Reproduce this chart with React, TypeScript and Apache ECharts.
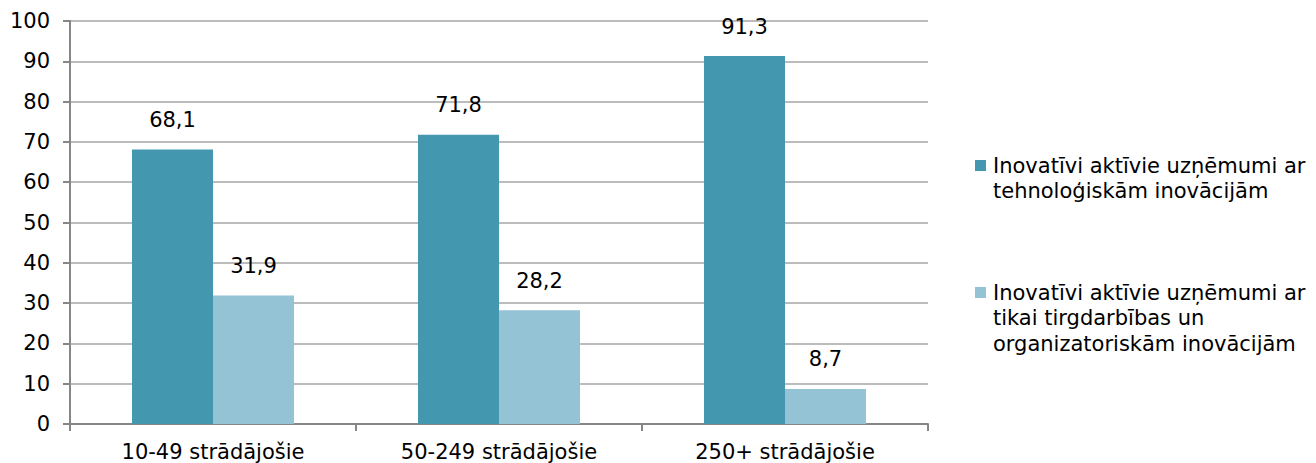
import React, { useEffect, useRef } from "react";
import * as echarts from "echarts";

const categories = ["10-49 strādājošie", "50-249 strādājošie", "250+ strādājošie"];
const seriesNames = [
  "Inovatīvi aktīvie uzņēmumi ar\ntehnoloģiskām inovācijām",
  "Inovatīvi aktīvie uzņēmumi ar\ntikai tirgdarbības un\norganizatoriskām inovācijām",
];
const techValues = [68.1, 71.8, 91.3];
const nonTechValues = [31.9, 28.2, 8.7];
const colors = ["#4398B0", "#93C3D5"];
const yTicks = [0, 10, 20, 30, 40, 50, 60, 70, 80, 90, 100];

const FONT = "DejaVu Sans, Verdana, sans-serif";
const FS = 21;

export default function App() {
  const ref = useRef<HTMLDivElement>(null);
  useEffect(() => {
    if (!ref.current) return;
    const chart = echarts.init(ref.current, null, { renderer: "svg" });
    const fmt = (v: number) => v.toFixed(1).replace(".", ",");
    const legendTops = [153, 280];
    const graphic: any[] = [];
    seriesNames.forEach((name, i) => {
      graphic.push({
        type: "rect",
        left: 975,
        top: legendTops[i] + 7,
        shape: { width: 11, height: 11 },
        style: { fill: colors[i] },
      });
      graphic.push({
        type: "text",
        left: 993,
        top: legendTops[i],
        style: {
          text: name,
          font: `${FS}px ${FONT}`,
          lineHeight: 25.5,
          fill: "#000",
        },
      });
    });
    const labelCfg = {
      show: true,
      position: "top",
      distance: 19,
      color: "#000",
      fontSize: FS,
      fontFamily: FONT,
      formatter: (p: any) => fmt(p.value),
    };
    chart.setOption({
      animation: false,
      textStyle: { fontFamily: FONT },
      grid: { left: 70, right: 388, top: 21, bottom: 39, containLabel: false },
      xAxis: {
        type: "category",
        data: categories,
        axisLine: { lineStyle: { color: "#868686", width: 2 } },
        axisTick: { show: true, length: 7, lineStyle: { color: "#868686", width: 2 } },
        axisLabel: { color: "#000", fontSize: FS, margin: 17, fontFamily: FONT },
      },
      yAxis: {
        type: "value",
        min: 0,
        max: 100,
        interval: 10,
        axisLine: { show: true, lineStyle: { color: "#868686", width: 2 } },
        axisTick: { show: true, length: 7, lineStyle: { color: "#868686", width: 2 } },
        axisLabel: {
          color: "#000",
          fontSize: FS,
          margin: 20,
          fontFamily: FONT,
          formatter: (v: number) => (yTicks.includes(v) ? String(v) : ""),
        },
        splitLine: { show: true, lineStyle: { color: "#A6A6A6", width: 1.5 } },
      },
      series: [
        {
          name: seriesNames[0],
          type: "bar",
          data: techValues,
          barWidth: 81,
          barGap: "0%",
          itemStyle: { color: colors[0] },
          label: labelCfg,
        },
        {
          name: seriesNames[1],
          type: "bar",
          data: nonTechValues,
          barWidth: 81,
          barGap: "0%",
          itemStyle: { color: colors[1] },
          label: labelCfg,
        },
      ],
      graphic,
    });
    return () => chart.dispose();
  }, []);
  return (
    <div
      ref={ref}
      style={{ position: "absolute", left: 0, top: 0, width: 1316, height: 463 }}
    />
  );
}
